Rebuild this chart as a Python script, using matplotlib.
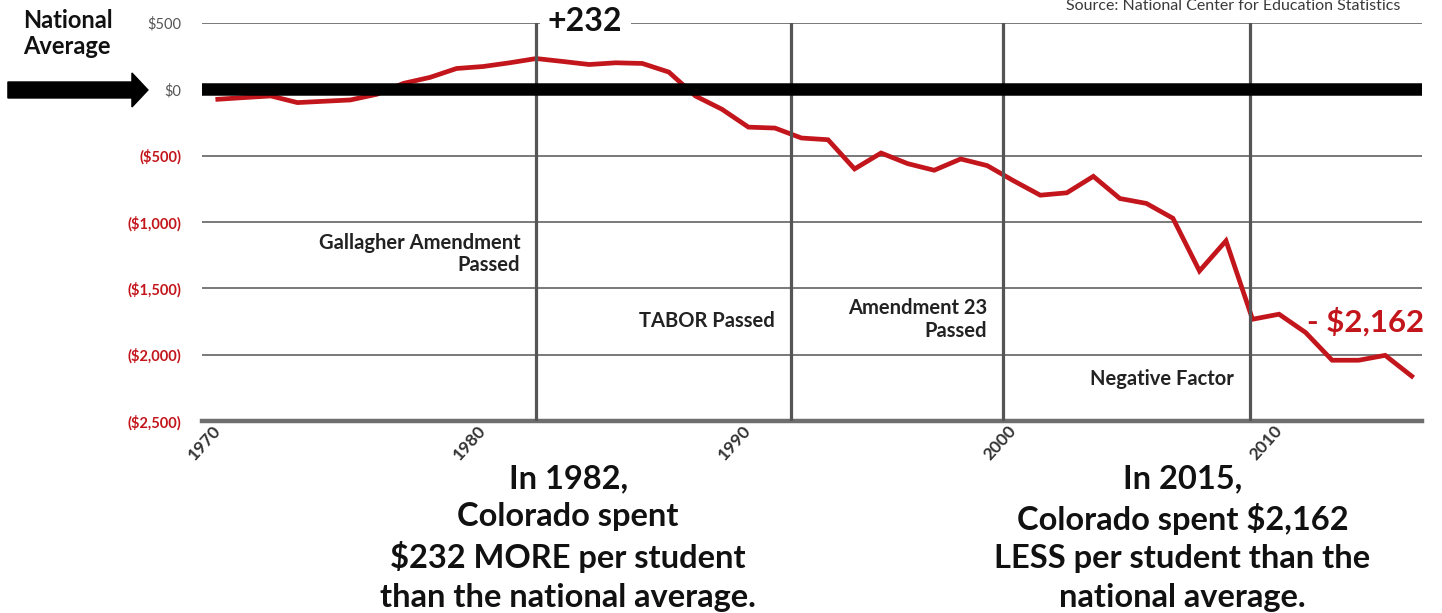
import matplotlib.pyplot as plt
from matplotlib.patches import FancyArrow

plt.rcParams['font.family'] = ['Lato', 'DejaVu Sans']

# Colorado per-student spending minus the national average, by year
years = list(range(1970, 2016))
diff = [-75, -62, -50, -100, -90, -80, -37, 45, 90, 157,
        172, 200, 232, 210, 187, 200, 195, 130, -50, -150,
        -285, -292, -367, -380, -600, -480, -560, -610, -525, -575,
        -690, -798, -780, -656, -823, -860, -972, -1369, -1142, -1733,
        -1695, -1833, -2042, -2042, -2005, -2162]

# policy events marked with vertical lines
event_pos = [1982, 1991.6, 1999.6, 2008.9]
event_labels = ['Gallagher Amendment\nPassed', 'TABOR Passed',
                'Amendment 23\nPassed', 'Negative Factor']
event_label_y = [-1242, -1743, -1735, -2184]

y_ticks = [500, 0, -500, -1000, -1500, -2000, -2500]
y_tick_labels = ['$500', '$0', '($500)', '($1,000)', '($1,500)', '($2,000)', '($2,500)']
x_ticks = [1970, 1980, 1990, 2000, 2010]

red = '#c3161c'
grid_gray = '#6e6e6e'

fig = plt.figure(figsize=(14.42, 6.13), dpi=100)
ax = fig.add_axes([0.140, 0.3132, 0.846, 0.6493])

ax.plot(years, diff, color=red, lw=3.4, zorder=3, solid_joinstyle='miter')
ax.axhline(0, color='black', lw=9, zorder=5)
for xp in event_pos:
    ax.axvline(xp, color='#555555', lw=2.3, zorder=4)

ax.set_xlim(1969.40, 2015.38)
ax.set_ylim(-2500, 500)
ax.set_yticks(y_ticks)
ax.set_yticklabels(y_tick_labels)
ax.set_xticks(x_ticks)
ax.set_xticklabels([str(x) for x in x_ticks], rotation=48, ha='right', va='center',
                   rotation_mode='anchor', fontsize=12.5, fontweight='bold',
                   color='#333333')

ax.set_axisbelow(True)
ax.grid(axis='y', color=grid_gray, lw=1.3)
for s in ['top', 'right', 'left']:
    ax.spines[s].set_visible(False)
ax.spines['bottom'].set_color(grid_gray)
ax.spines['bottom'].set_linewidth(3.2)
ax.tick_params(axis='y', length=0, pad=15)
ax.tick_params(axis='x', length=0, pad=5)

for lbl, val in zip(ax.get_yticklabels(), y_ticks):
    lbl.set_fontsize(10.5)
    if val < 0:
        lbl.set_color(red)
        lbl.set_fontweight('bold')
    else:
        lbl.set_color('#555555')

# event annotations
for xp, txt, ty in zip(event_pos, event_labels, event_label_y):
    ax.text(xp - 0.6, ty, txt, ha='right', va='center', multialignment='right',
            fontsize=14.5, fontweight='bold', color='#222222', linespacing=1.15)

ax.text(1982.44, 508, '+232', ha='left', va='center', fontsize=23,
        fontweight='bold', color='#111111', zorder=6, clip_on=False,
        bbox=dict(facecolor='white', edgecolor='none', pad=6))
ax.text(2011.05, -1750, '- $2,162', ha='left', va='center', fontsize=22.5,
        fontweight='bold', color=red, zorder=6, clip_on=False)

fig.text(0.971, 0.991, 'Source: National Center for Education Statistics',
         ha='right', va='center', fontsize=11.5, fontweight='normal', color='#3a3a3a')
fig.text(0.016, 0.945, 'National\nAverage', ha='left', va='center',
         fontsize=17, fontweight='bold', color='#111111', linespacing=1.15)

arrow = FancyArrow(0.0055, 0.8532, 0.0971, 0, width=0.0261, head_width=0.0555,
                   head_length=0.0111, length_includes_head=True,
                   color='black', transform=fig.transFigure)
fig.patches.append(arrow)

fig.text(0.394, 0.243, 'In 1982,\nColorado spent\n$232 MORE per student\nthan the national average.',
         ha='center', va='top', fontsize=23.5, fontweight='bold', color='#111111',
         linespacing=1.38)
fig.text(0.820, 0.243, 'In 2015,\nColorado spent $2,162\nLESS per student than the\nnational average.',
         ha='center', va='top', fontsize=23.5, fontweight='bold', color='#111111',
         linespacing=1.38)

fig.savefig('out.png', dpi=100, facecolor='white')
